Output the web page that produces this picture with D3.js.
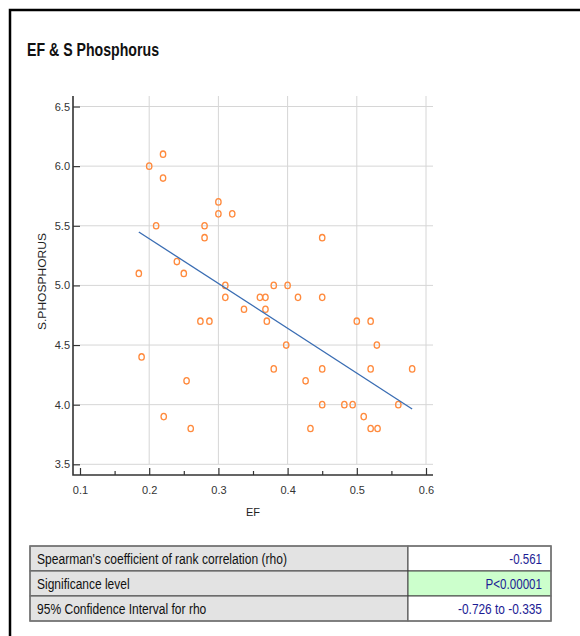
<!DOCTYPE html>
<html>
<head>
<meta charset="utf-8">
<script src="https://cdn.jsdelivr.net/npm/d3@7"></script>
<style>
	body { margin: 0; background: #fff; }
	svg { display: block; font-family: "Liberation Sans Narrow", "Arial Narrow", "Liberation Sans", sans-serif; }
</style>
</head>
<body>
<svg id="chart" width="580" height="636"></svg>
<script>
// EF (x) and serum phosphorus (y) of every case
const efValues = [
	0.2, 0.22, 0.22, 0.21, 0.185, 0.24, 0.25, 0.28, 0.28, 0.3, 0.3, 0.32, 0.31,
	0.45, 0.38, 0.4, 0.31, 0.337, 0.274, 0.287, 0.189, 0.254, 0.221, 0.26,
	0.36, 0.368, 0.415, 0.45, 0.368, 0.37, 0.5, 0.52, 0.398, 0.529,
	0.38, 0.45, 0.52, 0.58, 0.426, 0.45, 0.482, 0.494, 0.56, 0.51, 0.433, 0.52, 0.53,
];
const phosphorusValues = [
	6.0, 6.1, 5.9, 5.5, 5.1, 5.2, 5.1, 5.5, 5.4, 5.7, 5.6, 5.6, 5.0,
	5.4, 5.0, 5.0, 4.9, 4.8, 4.7, 4.7, 4.4, 4.2, 3.9, 3.8,
	4.9, 4.9, 4.9, 4.9, 4.8, 4.7, 4.7, 4.7, 4.5, 4.5,
	4.3, 4.3, 4.3, 4.3, 4.2, 4.0, 4.0, 4.0, 4.0, 3.9, 3.8, 3.8, 3.8,
];

// regression line end points
const fitX = [0.185, 0.58];
const fitY = [5.448, 3.964];

const xTicks = [0.1, 0.2, 0.3, 0.4, 0.5, 0.6];
const xMinorTicks = [0.15, 0.25, 0.35, 0.45, 0.55];
const yTicks = [3.5, 4.0, 4.5, 5.0, 5.5, 6.0, 6.5];

const statLabels = [
	"Spearman's coefficient of rank correlation (rho)",
	"Significance level",
	"95% Confidence Interval for rho",
];
const statValues = ["-0.561", "P<0.00001", "-0.726 to -0.335"];

const svg = d3.select("#chart");

// outer frame (left and top only)
svg.append("path")
	.attr("d", "M10,636V10H580")
	.attr("fill", "none")
	.attr("stroke", "#000")
	.attr("stroke-width", 2.5);

svg.append("text")
	.attr("x", 27)
	.attr("y", 56)
	.attr("font-size", 19)
	.attr("font-weight", "bold")
	.attr("textLength", 132)
	.attr("lengthAdjust", "spacingAndGlyphs")
	.attr("fill", "#111")
	.text("EF & S Phosphorus");

// Scales
const x = d3.scaleLinear().domain([0.1, 0.6]).range([80, 426]);
const y = d3.scaleLinear().domain([3.5, 6.5]).range([464.3, 106.5]);

const plotTop = 96;
const plotRight = 433;
const axisX = 73;
const axisY = 475;

// Grid
const grid = svg.append("g").attr("stroke", "#d6d6d6").attr("stroke-width", 1);
grid.selectAll(".vgrid")
	.data(xTicks.slice(1))
	.join("line")
	.attr("x1", (d) => x(d))
	.attr("x2", (d) => x(d))
	.attr("y1", plotTop)
	.attr("y2", y(3.5));
grid.selectAll(".hgrid")
	.data(yTicks)
	.join("line")
	.attr("x1", x(0.1))
	.attr("x2", plotRight)
	.attr("y1", (d) => y(d))
	.attr("y2", (d) => y(d));

// Axes
const yAxis = svg.append("g")
	.attr("transform", `translate(${axisX},0)`)
	.call(d3.axisLeft(y).tickValues(yTicks).tickFormat(d3.format(".1f"))
		.tickSizeInner(-7).tickSizeOuter(0).tickPadding(3));
yAxis.select(".domain").remove();

const xAxis = svg.append("g")
	.attr("transform", `translate(0,${axisY})`)
	.call(d3.axisBottom(x).tickValues(xTicks).tickFormat(d3.format(".1f"))
		.tickSizeInner(-7).tickSizeOuter(0).tickPadding(11));
xAxis.select(".domain").remove();

svg.append("g")
	.attr("transform", `translate(0,${axisY})`)
	.call(d3.axisBottom(x).tickValues(xMinorTicks).tickFormat("")
		.tickSizeInner(-4).tickSizeOuter(0))
	.select(".domain").remove();

svg.selectAll(".tick line").attr("stroke", "#333").attr("stroke-width", 1.2);
svg.selectAll(".tick text")
	.attr("font-family", null)
	.attr("font-size", 11)
	.attr("fill", "#333");

// axis lines, a bit outside the plot area
svg.append("path")
	.attr("d", `M${axisX},${plotTop}V${axisY}H${plotRight}`)
	.attr("fill", "none")
	.attr("stroke", "#333")
	.attr("stroke-width", 1.6);

svg.append("text")
	.attr("transform", "translate(42,281.5) rotate(-90)")
	.attr("text-anchor", "middle")
	.attr("dominant-baseline", "central")
	.attr("font-size", 11.5)
	.attr("textLength", 97)
	.attr("lengthAdjust", "spacingAndGlyphs")
	.attr("fill", "#222")
	.text("S.PHOSPHORUS");

svg.append("text")
	.attr("x", 253)
	.attr("y", 516)
	.attr("text-anchor", "middle")
	.attr("font-size", 11)
	.attr("fill", "#222")
	.text("EF");

// Points
const points = efValues.map((d, i) => ({ ef: d, p: phosphorusValues[i] }));
svg.append("g")
	.selectAll("ellipse")
	.data(points)
	.join("ellipse")
	.attr("cx", (d) => x(d.ef))
	.attr("cy", (d) => y(d.p))
	.attr("rx", 2.7)
	.attr("ry", 3.2)
	.attr("fill", "none")
	.attr("stroke", "#ff8a3d")
	.attr("stroke-width", 1.3);

// Regression line
svg.append("path")
	.datum(fitX.map((d, i) => [d, fitY[i]]))
	.attr("d", d3.line().x((d) => x(d[0])).y((d) => y(d[1])))
	.attr("fill", "none")
	.attr("stroke", "#3a6db3")
	.attr("stroke-width", 1.3);

// Statistics table
const tableLeft = 30;
const tableMid = 408;
const tableRight = 551;
const tableTop = 546;
const rowH = 25;
const labelWidths = [250, 92.6, 169.3];
const valueWidths = [32.7, 56.4, 84];

const table = svg.append("g");
const rows = table.selectAll("g")
	.data(statLabels)
	.join("g")
	.attr("transform", (d, i) => `translate(0,${tableTop + i * rowH})`);

rows.append("rect")
	.attr("x", tableLeft)
	.attr("width", tableMid - tableLeft)
	.attr("height", rowH)
	.attr("fill", "#e3e3e3")
	.attr("stroke", "#444")
	.attr("stroke-width", 1);

rows.append("rect")
	.attr("x", tableMid)
	.attr("width", tableRight - tableMid)
	.attr("height", rowH)
	.attr("fill", (d, i) => (i === 1 ? "#ccffcc" : "#fff"))
	.attr("stroke", "#444")
	.attr("stroke-width", 1);

rows.append("text")
	.attr("x", tableLeft + 7)
	.attr("y", 17.5)
	.attr("font-size", 14)
	.attr("fill", "#111")
	.attr("textLength", (d, i) => labelWidths[i])
	.attr("lengthAdjust", "spacingAndGlyphs")
	.text((d) => d);

rows.append("text")
	.attr("x", tableRight - 9)
	.attr("y", 17.5)
	.attr("text-anchor", "end")
	.attr("font-size", 14)
	.attr("fill", "#1c1c94")
	.attr("textLength", (d, i) => valueWidths[i])
	.attr("lengthAdjust", "spacingAndGlyphs")
	.text((d, i) => statValues[i]);

table.append("rect")
	.attr("x", tableLeft)
	.attr("y", tableTop)
	.attr("width", tableRight - tableLeft)
	.attr("height", rowH * statLabels.length)
	.attr("fill", "none")
	.attr("stroke", "#777")
	.attr("stroke-width", 1.5);
</script>
</body>
</html>
